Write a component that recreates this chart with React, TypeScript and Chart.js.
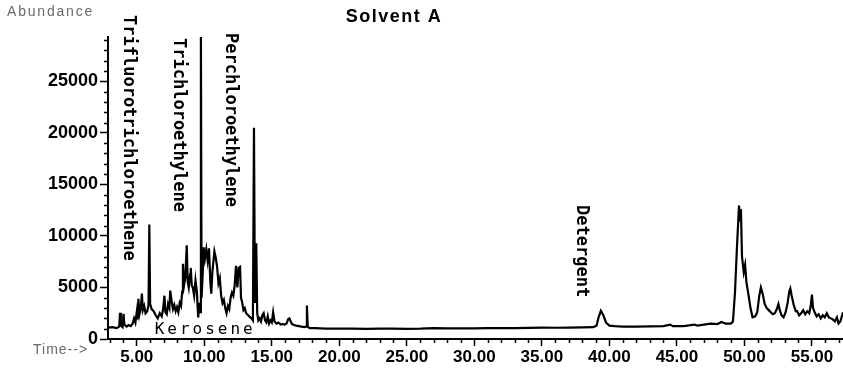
import React, { useEffect, useRef } from "react";
import { Chart, registerables } from "chart.js";

Chart.register(...registerables);

// Retention time (min)
const times: number[] = [
  2.87, 3.2, 3.5, 3.7, 3.76, 3.82, 3.95, 4.02, 4.08, 4.25, 4.4, 4.55, 4.7, 4.8, 4.9, 5.0, 5.05, 5.12, 5.2, 5.3,
  5.38, 5.45, 5.55, 5.65, 5.78, 5.87, 5.93, 5.99, 6.1, 6.25, 6.4, 6.55, 6.7, 6.85, 6.95, 7.05, 7.12, 7.22, 7.32, 7.42,
  7.48, 7.58, 7.68, 7.78, 7.88, 7.98, 8.08, 8.18, 8.28, 8.36, 8.42, 8.5, 8.6, 8.7, 8.77, 8.85, 8.95, 9.0, 9.07, 9.15,
  9.25, 9.35, 9.45, 9.55, 9.63, 9.7, 9.75, 9.8, 9.88, 9.96, 10.05, 10.15, 10.25, 10.35, 10.45, 10.52, 10.6, 10.75, 10.85, 10.95,
  11.05, 11.15, 11.25, 11.35, 11.45, 11.55, 11.65, 11.75, 11.85, 11.95, 12.05, 12.15, 12.25, 12.35, 12.45, 12.55, 12.65, 12.72, 12.8, 12.9,
  13.0, 13.1, 13.25, 13.4, 13.5, 13.6, 13.68, 13.75, 13.85, 13.92, 14.0, 14.1, 14.2, 14.3, 14.4, 14.5, 14.6, 14.7, 14.8, 14.9,
  15.0, 15.1, 15.2, 15.35, 15.5, 15.65, 15.8, 15.95, 16.1, 16.2, 16.3, 16.4, 16.5, 16.65, 16.8, 17.0, 17.2, 17.4, 17.54, 17.6,
  17.66, 17.8, 18.2, 19.0, 20.0, 21.0, 22.0, 23.0, 24.0, 25.0, 26.0, 27.0, 28.0, 29.0, 30.0, 31.0, 32.0, 33.0, 34.0, 35.0,
  36.0, 37.0, 38.0, 38.8, 39.05, 39.2, 39.37, 39.55, 39.75, 40.0, 40.4, 41.0, 42.0, 43.0, 44.0, 44.5, 44.7, 45.5, 46.3, 46.5,
  47.0, 47.5, 48.0, 48.3, 48.6, 49.0, 49.15, 49.3, 49.45, 49.6, 49.68, 49.74, 49.82, 49.95, 50.05, 50.15, 50.3, 50.45, 50.6, 50.8,
  50.95, 51.1, 51.22, 51.35, 51.5, 51.65, 51.8, 51.95, 52.1, 52.25, 52.4, 52.52, 52.62, 52.75, 52.9, 53.05, 53.2, 53.32, 53.4, 53.5,
  53.65, 53.8, 53.9, 54.05, 54.2, 54.35, 54.5, 54.65, 54.8, 54.92, 55.0, 55.08, 55.2, 55.35, 55.5, 55.65, 55.8, 55.95, 56.1, 56.25,
  56.4, 56.55, 56.7, 56.85, 56.97, 57.1, 57.3,
];

// Abundance
const abundance: number[] = [
  1100, 1150, 1050, 1200, 2550, 1300, 1150, 2450, 1400, 1200, 1350, 1250, 1500, 2000, 1600, 2600, 1900, 3900, 2400, 3000,
  4400, 2800, 3200, 2500, 2700, 3300, 11100, 3400, 2900, 2700, 2300, 2000, 2500, 2200, 2900, 4200, 2600, 2400, 3400, 3000,
  4700, 3700, 2900, 3300, 2700, 3100, 2600, 3500, 3200, 4600, 7300, 5200, 6000, 9100, 5600, 5000, 6300, 6900, 5200, 5000,
  4200, 5700, 4600, 2100, 3500, 2600, 29500, 4000, 6200, 8900, 7800, 8700, 7600, 8800, 5500, 4400, 6500, 8500, 7900, 7000,
  5400, 5900, 4200, 3500, 3800, 3000, 2500, 3200, 2900, 4000, 4500, 4200, 5200, 7100, 5000, 6900, 7000, 4000, 3600, 2800,
  3000, 2500, 2300, 2100, 2000, 1800, 20500, 3500, 9300, 2500, 1800, 2000, 1700, 2300, 2500, 1800, 1600, 2200, 1500, 1800,
  1600, 2600, 1700, 1500, 1600, 1400, 1450, 1400, 1500, 1900, 2000, 1700, 1450, 1350, 1300, 1250, 1200, 1150, 1200, 3250,
  1200, 1050, 1050, 1000, 1020, 1000, 980, 1000, 1010, 990, 1000, 1050, 1040, 1030, 1040, 1050, 1060, 1050, 1080, 1100,
  1090, 1100, 1120, 1150, 1300, 2100, 2750, 2300, 1600, 1300, 1250, 1200, 1200, 1220, 1250, 1400, 1250, 1250, 1400, 1300,
  1400, 1500, 1450, 1650, 1500, 1500, 1700, 4500, 9000, 12950, 11500, 12600, 8000, 6500, 7200, 5500, 4300, 3000, 2100, 2200,
  2600, 4200, 5000, 4400, 3400, 3000, 2800, 2600, 2400, 2500, 2900, 3400, 2800, 2300, 2100, 2600, 3500, 4600, 4900, 4200,
  3300, 2700, 2700, 2300, 2500, 2800, 2400, 2700, 2500, 3300, 4300, 3000, 2600, 2200, 2400, 2000, 2300, 2100, 2500, 2100,
  2000, 1900, 1700, 2100, 1500, 1700, 2600,
];

const xMajorTicks: number[] = [5, 10, 15, 20, 25, 30, 35, 40, 45, 50, 55];
const yMajorTicks: number[] = [0, 5000, 10000, 15000, 20000, 25000];

const chartTitle = "Solvent A";
const yAxisName = "Abundance";
const xAxisName = "Time-->";

// Compound annotations: label and retention time they sit at
const verticalLabels: string[] = ["Trifluorotrichloroethene", "Trichloroethylene", "Perchloroethylene", "Detergent"];
const verticalLabelTimes: number[] = [4.36, 8.06, 11.91, 37.92];
const horizontalLabel = "Kerosene";
const horizontalLabelTime = 10.07;

// layout (pixel tops of the vertical labels)
const verticalLabelTops = [15, 38, 33, 205];

export default function App() {
  const canvasRef = useRef<HTMLCanvasElement | null>(null);

  useEffect(() => {
    const canvas = canvasRef.current;
    if (!canvas) return;

    const textPlugin = {
      id: "textPlugin",
      beforeDatasetsDraw(chart: any) {
        const ctx = chart.ctx as CanvasRenderingContext2D;
        const xs = chart.scales.x;
        ctx.save();
        ctx.fillStyle = "#000";
        ctx.font = "16px 'DejaVu Sans Mono'";
        (ctx as any).letterSpacing = "3px";
        ctx.textAlign = "center";
        ctx.textBaseline = "middle";
        ctx.fillText(horizontalLabel, xs.getPixelForValue(horizontalLabelTime), 330);
        ctx.restore();
      },
      afterDraw(chart: any) {
        const ctx = chart.ctx as CanvasRenderingContext2D;
        const xs = chart.scales.x;
        const ys = chart.scales.y;
        const area = chart.chartArea;
        ctx.save();
        // minor ticks
        ctx.strokeStyle = "#000";
        ctx.lineWidth = 1.5;
        for (let v = 1000; v <= ys.max; v += 1000) {
          if (v % 5000 === 0) continue;
          const py = Math.round(ys.getPixelForValue(v)) + 0.5;
          ctx.beginPath();
          ctx.moveTo(area.left - 4, py);
          ctx.lineTo(area.left + 1, py);
          ctx.stroke();
        }
        for (let t = Math.ceil(xs.min); t <= xs.max; t += 1) {
          if (t % 5 === 0) continue;
          const px = Math.round(xs.getPixelForValue(t)) + 0.5;
          ctx.beginPath();
          ctx.moveTo(px, area.bottom);
          ctx.lineTo(px, area.bottom + 4);
          ctx.stroke();
        }

        // title
        ctx.fillStyle = "#000";
        ctx.font = "bold 18px 'Liberation Sans'";
        (ctx as any).letterSpacing = "1.5px";
        ctx.textAlign = "center";
        ctx.textBaseline = "middle";
        ctx.fillText(chartTitle, 394, 17);

        // axis names
        ctx.fillStyle = "#6a6a6a";
        ctx.font = "14px 'Liberation Sans'";
        (ctx as any).letterSpacing = "1.8px";
        ctx.textAlign = "left";
        ctx.fillText(yAxisName, 7, 12);
        (ctx as any).letterSpacing = "1px";
        ctx.fillText(xAxisName, 33, 350);

        // vertical compound labels
        ctx.fillStyle = "#000";
        ctx.font = "bold 17px 'DejaVu Sans Mono'";
        (ctx as any).letterSpacing = "0px";
        ctx.textAlign = "left";
        ctx.textBaseline = "middle";
        verticalLabels.forEach((label, i) => {
          const px = xs.getPixelForValue(verticalLabelTimes[i]);
          ctx.save();
          ctx.translate(px, verticalLabelTops[i]);
          ctx.rotate(Math.PI / 2);
          ctx.fillText(label, 0, 0);
          ctx.restore();
        });
        ctx.restore();
      },
    };

    const chart = new Chart(canvas, {
      type: "line",
      data: {
        datasets: [
          {
            data: times.map((t, i) => ({ x: t, y: abundance[i] })),
            borderColor: "#000",
            borderWidth: 2.2,
            pointRadius: 0,
            tension: 0,
            fill: false,
          },
        ],
      },
      options: {
        animation: false,
        responsive: false,
        maintainAspectRatio: false,
        layout: { padding: { top: 37, right: 0, left: 0, bottom: 0 } },
        plugins: {
          legend: { display: false },
          tooltip: { enabled: false },
          title: { display: false },
        },
        scales: {
          x: {
            type: "linear",
            min: 2.87,
            max: 57.3,
            afterBuildTicks: (s: any) => {
              s.ticks = xMajorTicks.map((v) => ({ value: v }));
            },
            afterFit: (s: any) => {
              s.height = 30;
            },
            border: { display: true, color: "#000", width: 2 },
            grid: {
              display: true,
              drawOnChartArea: false,
              drawTicks: true,
              tickLength: 7,
              tickWidth: 1.5,
              tickColor: "#000",
            },
            ticks: {
              autoSkip: false,
              maxRotation: 0,
              minRotation: 0,
              padding: 1,
              color: "#000",
              font: { family: "'Liberation Sans'", size: 17, weight: "bold" },
              callback: (v: any) => Number(v).toFixed(2),
            },
          },
          y: {
            type: "linear",
            min: 0,
            max: 29300,
            afterBuildTicks: (s: any) => {
              s.ticks = yMajorTicks.map((v) => ({ value: v }));
            },
            afterFit: (s: any) => {
              s.width = 108;
            },
            border: { display: true, color: "#000", width: 2 },
            grid: {
              display: true,
              drawOnChartArea: false,
              drawTicks: true,
              tickLength: 8,
              tickWidth: 1.5,
              tickColor: "#000",
            },
            ticks: {
              autoSkip: false,
              padding: 2,
              color: "#000",
              font: { family: "'Liberation Sans'", size: 18, weight: "bold" },
              callback: (v: any) => String(Math.round(Number(v))),
            },
          },
        },
      },
      plugins: [textPlugin],
    } as any);

    return () => {
      chart.destroy();
    };
  }, []);

  return (
    <div style={{ position: "fixed", left: 0, top: 0, width: 843, height: 369, background: "#fff" }}>
      <canvas ref={canvasRef} width={843} height={369} style={{ width: 843, height: 369, display: "block" }} />
    </div>
  );
}
